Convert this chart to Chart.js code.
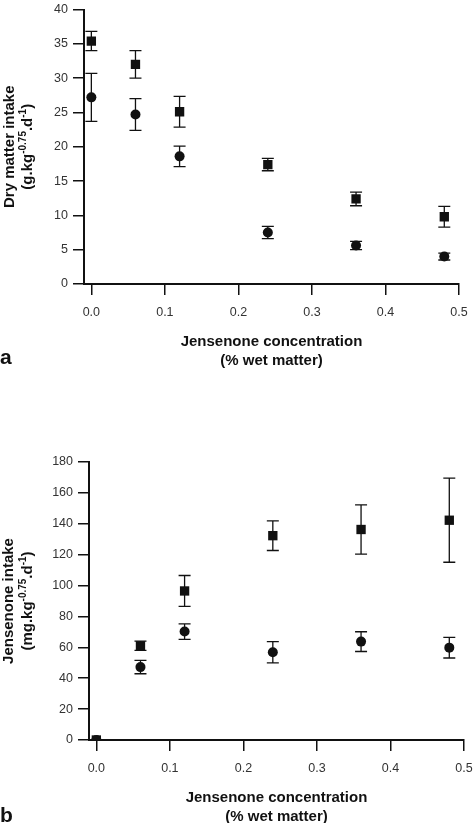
<!DOCTYPE html>
<html>
<head>
<meta charset="utf-8">
<script src="https://cdn.jsdelivr.net/npm/chart.js@4.4.1/dist/chart.umd.min.js"></script>
<style>
  html, body { margin: 0; padding: 0; background: #fff; overflow: hidden; }
  body { width: 474px; height: 823px; position: relative; }
  canvas { position: absolute; left: 0; }
  #chartA { top: -3px; }
  #chartB { top: 440px; }
</style>
</head>
<body>
<canvas id="chartA" width="474" height="373"></canvas>
<canvas id="chartB" width="474" height="386"></canvas>
<script>
const FONT = "'Liberation Sans', Arial, Helvetica, sans-serif";

// jensenone concentration (% wet matter)
const concentration = [0, 0.06, 0.12, 0.24, 0.36, 0.48];
const xTicks = [0, 0.1, 0.2, 0.3, 0.4, 0.5];

// panel a - dry matter intake
const dmiSquare = [35.4, 32.0, 25.1, 17.4, 12.4, 9.8];
const dmiSquareErr = [1.4, 2.0, 2.25, 0.9, 1.0, 1.5];
const dmiCircle = [27.2, 24.7, 18.6, 7.5, 5.6, 4.0];
const dmiCircleErr = [3.5, 2.3, 1.5, 0.9, 0.6, 0.5];

// panel b - jensenone intake
const jiSquare = [0, 61.0, 96.5, 132.3, 136.3, 142.3];
const jiSquareErr = [0, 3.0, 10.0, 9.6, 16.0, 27.2];
const jiCircle = [0, 47.2, 70.2, 56.8, 63.7, 59.8];
const jiCircleErr = [0, 4.3, 5.0, 6.9, 6.4, 6.7];

const toPoints = (ys) => concentration.map((x, i) => ({ x: x, y: ys[i] }));

// vertical error bars with caps, drawn under the markers
const errorBars = {
  id: 'errorBars',
  beforeDatasetsDraw(chart) {
    const ctx = chart.ctx;
    const y = chart.scales.y;
    ctx.save();
    ctx.strokeStyle = '#111';
    ctx.lineWidth = 1.3;
    chart.data.datasets.forEach((ds, i) => {
      const meta = chart.getDatasetMeta(i);
      ds.errors.forEach((e, j) => {
        if (!e) return;
        const px = meta.data[j].x;
        const v = ds.data[j].y;
        const top = y.getPixelForValue(v + e);
        const bot = y.getPixelForValue(v - e);
        ctx.beginPath();
        ctx.moveTo(px, top); ctx.lineTo(px, bot);
        ctx.moveTo(px - 6, top); ctx.lineTo(px + 6, top);
        ctx.moveTo(px - 6, bot); ctx.lineTo(px + 6, bot);
        ctx.stroke();
      });
    });
    ctx.restore();
  }
};

// y title with superscripts + panel letter
const sideTitles = {
  id: 'sideTitles',
  afterDraw(chart, args, opts) {
    const { ctx, chartArea } = chart;
    const cy = (chartArea.top + chartArea.bottom) / 2;
    ctx.save();
    ctx.fillStyle = '#111';
    ctx.textBaseline = 'middle';
    ctx.translate(0, cy);
    ctx.rotate(-Math.PI / 2);
    opts.lines.forEach((parts, k) => {
      let w = 0;
      parts.forEach(p => {
        ctx.font = 'bold ' + (p.sup ? 10 : 15) + 'px ' + FONT;
        w += ctx.measureText(p.t).width;
      });
      let x = -w / 2;
      parts.forEach(p => {
        ctx.font = 'bold ' + (p.sup ? 10 : 15) + 'px ' + FONT;
        ctx.fillText(p.t, x, opts.lineX[k] + (p.sup ? -5 : 0));
        x += ctx.measureText(p.t).width;
      });
    });
    ctx.restore();
    ctx.save();
    ctx.fillStyle = '#111';
    ctx.textBaseline = 'middle';
    ctx.font = 'bold 21px ' + FONT;
    ctx.fillText(opts.letter, opts.letterX, opts.letterY);
    ctx.restore();
  }
};

function makeChart(id, cfg) {
  return new Chart(document.getElementById(id), {
    type: 'scatter',
    data: {
      datasets: [
        {
          data: toPoints(cfg.square), errors: cfg.squareErr,
          pointStyle: 'rect', pointRadius: 6.6, pointBorderWidth: 0,
          backgroundColor: '#111', borderColor: '#111', showLine: false
        },
        {
          data: toPoints(cfg.circle), errors: cfg.circleErr,
          pointStyle: 'circle', pointRadius: 5, pointBorderWidth: 0,
          backgroundColor: '#111', borderColor: '#111', showLine: false
        }
      ]
    },
    options: {
      responsive: false,
      animation: false,
      layout: { padding: { top: cfg.padTop, right: cfg.padRight, left: 0, bottom: 0 } },
      plugins: {
        legend: { display: false },
        tooltip: { enabled: false },
        sideTitles: cfg.titles
      },
      scales: {
        x: {
          type: 'linear', min: -0.01, max: 0.5,
          afterBuildTicks: (s) => { s.ticks = xTicks.map(v => ({ value: v })); },
          // fixed axis box; side padding left to layout.padding
          afterFit: (s) => { s.height = 86; s.paddingLeft = 0; s.paddingRight = 0; },
          ticks: {
            color: '#333', font: { family: FONT, size: 12.5 }, padding: 10,
            maxRotation: 0, autoSkip: false, callback: (v) => Number(v).toFixed(1)
          },
          grid: { drawOnChartArea: false, drawTicks: true, tickLength: 11, color: '#111', lineWidth: 1.5 },
          border: { display: true, color: '#111', width: 2 },
          title: {
            display: true, text: ['Jensenone concentration', '(% wet matter)'], color: '#111',
            font: { family: FONT, size: 15, weight: 'bold', lineHeight: 1.25 }, padding: 0
          }
        },
        y: {
          type: 'linear', min: 0, max: cfg.yMax,
          afterFit: (s) => { s.width = cfg.yWidth; },
          ticks: { stepSize: cfg.yStep, color: '#333', font: { family: FONT, size: 12.5 }, padding: 5 },
          grid: { drawOnChartArea: false, drawTicks: true, tickLength: 11, color: '#111', lineWidth: 1.5 },
          border: { display: true, color: '#111', width: 2 }
        }
      }
    },
    plugins: [errorBars, sideTitles]
  });
}

makeChart('chartA', {
  square: dmiSquare, squareErr: dmiSquareErr,
  circle: dmiCircle, circleErr: dmiCircleErr,
  yMax: 40, yStep: 5, yWidth: 84, padTop: 8, padRight: 15,
  titles: {
    lines: [
      [{ t: 'Dry matter intake' }],
      [{ t: '(g.kg' }, { t: '-0.75', sup: true }, { t: '.d' }, { t: '-1', sup: true }, { t: ')' }]
    ],
    lineX: [9.5, 28],
    letter: 'a', letterX: 0, letterY: 361
  }
});

makeChart('chartB', {
  square: jiSquare, squareErr: jiSquareErr,
  circle: jiCircle, circleErr: jiCircleErr,
  yMax: 180, yStep: 20, yWidth: 89, padTop: 22, padRight: 10,
  titles: {
    lines: [
      [{ t: 'Jensenone intake' }],
      [{ t: '(mg.kg' }, { t: '-0.75', sup: true }, { t: '.d' }, { t: '-1', sup: true }, { t: ')' }]
    ],
    lineX: [9, 28],
    letter: 'b', letterX: 0, letterY: 376
  }
});
</script>
</body>
</html>
